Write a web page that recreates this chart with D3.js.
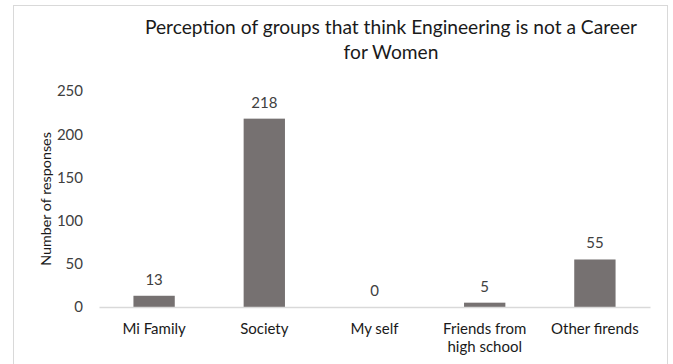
<!DOCTYPE html>
<html>
<head>
<meta charset="utf-8">
<script src="https://cdn.jsdelivr.net/npm/d3@7"></script>
<style>
  html, body { margin: 0; padding: 0; background: #fff; }
  svg { display: block; font-family: Lato, "Open Sans", sans-serif; }
</style>
</head>
<body>
<svg id="chart" width="673" height="364"></svg>
<script>
// Responses per group
const categories = ["Mi Family", "Society", "My self", "Friends from\nhigh school", "Other firends"];
const responses = [13, 218, 0, 5, 55];
const yTicks = [0, 50, 100, 150, 200, 250];

const titleLines = ["Perception of groups that think Engineering is not a Career", "for Women"];
const yTitle = "Number of responses";

const svg = d3.select("#chart");
const plot = { left: 99, right: 650, top: 91, bottom: 307 };

// chart frame
svg.append("rect")
  .attr("x", 13.5).attr("y", 5.5)
  .attr("width", 654).attr("height", 370)
  .attr("fill", "#fff").attr("stroke", "#d9d9d9").attr("stroke-width", 1);

const x = d3.scaleBand().domain(categories).range([plot.left, plot.right]).padding(0);
const y = d3.scaleLinear().domain([0, 250]).range([plot.bottom, plot.top]);
const barW = x.bandwidth() * 0.375;

// title
svg.append("text")
  .attr("text-anchor", "middle")
  .attr("fill", "#1a1a1a")
  .style("font-size", "19.2px")
  .selectAll("tspan").data(titleLines).join("tspan")
  .attr("x", 391)
  .attr("y", (d, i) => 34 + i * 25)
  .text(d => d);

// y axis labels (no line, no ticks)
const yAxis = d3.axisLeft(y).tickValues(yTicks).tickSize(0).tickPadding(0);
const gy = svg.append("g").attr("transform", `translate(${83},0)`).call(yAxis);
gy.select(".domain").remove();
gy.selectAll("text")
  .attr("fill", "#404040")
  .style("font-size", "15px")
  .style("font-family", "Lato, sans-serif");

// y axis title
svg.append("text")
  .attr("transform", `translate(${51},${199}) rotate(-90)`)
  .attr("text-anchor", "middle")
  .attr("fill", "#1a1a1a")
  .style("font-size", "14.3px")
  .text(yTitle);

// bars
svg.append("g").selectAll("rect").data(categories).join("rect")
  .attr("x", d => x(d) + (x.bandwidth() - barW) / 2)
  .attr("y", (d, i) => y(responses[i]))
  .attr("width", barW)
  .attr("height", (d, i) => y(0) - y(responses[i]))
  .attr("fill", "#767171");

// value labels
svg.append("g").selectAll("text").data(categories).join("text")
  .attr("x", d => x(d) + x.bandwidth() / 2)
  .attr("y", (d, i) => y(responses[i]) - 11)
  .attr("text-anchor", "middle")
  .attr("fill", "#404040")
  .style("font-size", "15px")
  .text((d, i) => responses[i]);

// x axis line and category labels
const xAxis = d3.axisBottom(x).tickSize(0).tickPadding(0);
const gx = svg.append("g").attr("transform", `translate(0,${plot.bottom})`).call(xAxis);
gx.select(".domain").attr("stroke", "#d9d9d9").attr("stroke-width", 1.5);
gx.selectAll(".tick text").each(function(d) {
  const t = d3.select(this).text(null)
    .attr("fill", "#1a1a1a")
    .style("font-size", "15px")
    .style("font-family", "Lato, sans-serif")
    .attr("dy", null).attr("y", 0);
  d.split("\n").forEach((line, i) => {
    t.append("tspan").attr("x", 0).attr("y", 27 + i * 18).text(line);
  });
});
</script>
</body>
</html>
